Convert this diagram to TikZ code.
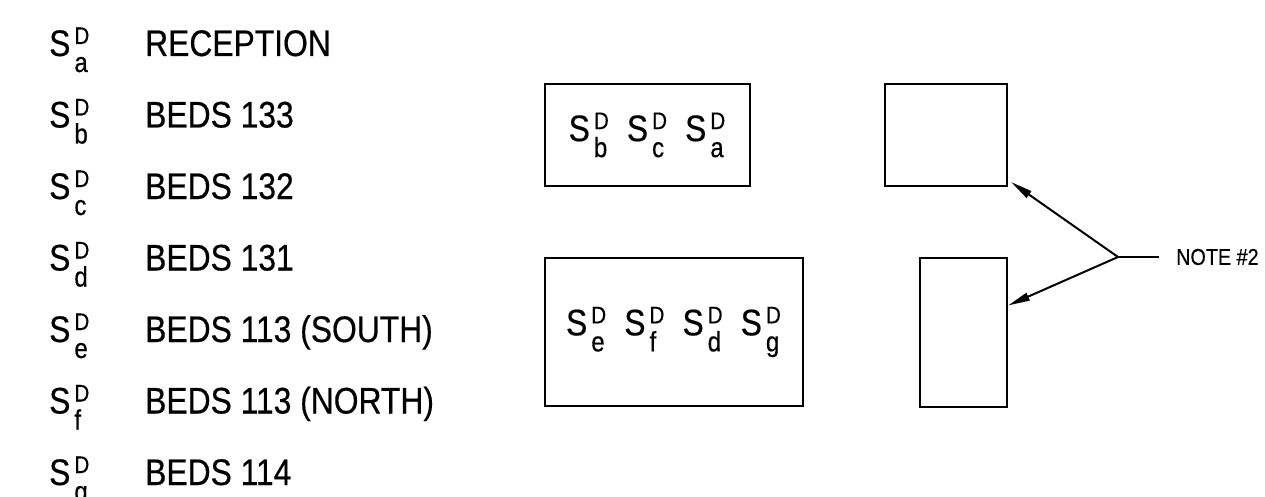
\documentclass[tikz,border=0pt]{standalone}
\usepackage{fontspec}
\setmainfont{Liberation Sans}[FakeStretch=0.86,FakeBold=0.4]
\usetikzlibrary{arrows.meta}

% S with superscript D and a subscript
\newcommand{\sd}[1]{S\hspace{4pt}\rlap{\raisebox{12pt}{\fontsize{24}{24}\selectfont D}}%
\makebox[16pt][l]{\raisebox{-16pt}{\fontsize{28}{28}\selectfont #1}}}

\tikzset{
  txt/.style={anchor=base west, inner sep=0pt, font=\fontsize{37}{40}\selectfont},
  room/.style={draw, line width=2pt, inner sep=0pt, font=\fontsize{37}{40}\selectfont},
  lead/.style={line width=2pt, -{Triangle[length=22pt,width=8pt]}}
}

\begin{document}
\begin{tikzpicture}[x=1pt,y=-1pt]
\useasboundingbox (0,0) rectangle (1265,497);

% legend
\node [txt] (sa) at (49,56) {\sd{a}};
\node [txt] (la) at (145,56) {RECEPTION};
\node [txt] (sb) at (49,127.5) {\sd{b}};
\node [txt] (lb) at (145,127.5) {BEDS 133};
\node [txt] (sc) at (49,199) {\sd{c}};
\node [txt] (lc) at (145,199) {BEDS 132};
\node [txt] (sdd) at (49,270.5) {\sd{d}};
\node [txt] (ld) at (145,270.5) {BEDS 131};
\node [txt] (se) at (49,342) {\sd{e}};
\node [txt] (le) at (145,342) {BEDS 113 (SOUTH)};
\node [txt] (sf) at (49,413.5) {\sd{f}};
\node [txt] (lf) at (145,413.5) {BEDS 113 (NORTH)};
\node [txt] (sg) at (49,485) {\sd{g}};
\node [txt] (lg) at (145,485) {BEDS 114};

% rooms
\node [room, minimum width=205pt, minimum height=102pt] (upper) at (647.5,135)
  {\sd{b}\hspace{17pt}\sd{c}\hspace{17pt}\sd{a}};
\node [room, minimum width=258pt, minimum height=148pt] (lower) at (674,332)
  {\sd{e}\hspace{17pt}\sd{f}\hspace{17pt}\sd{d}\hspace{17pt}\sd{g}};
\node [room, minimum width=122pt, minimum height=102pt] (north) at (946,135) {};
\node [room, minimum width=87pt, minimum height=149pt] (south) at (963.5,332.5) {};

% note
\node [anchor=west, inner sep=0pt, font=\fontsize{23}{26}\selectfont] (note) at (1176,257) {NOTE \#2};
\coordinate (junc) at (1118,257);
\draw [line width=2pt] (junc) -- ([xshift=-17pt]note.west);
\draw [lead] (junc) -- ([shift={(3pt,5pt)}]north.south east);
\draw [lead] (junc) -- ([yshift=27pt]south.east);
\end{tikzpicture}
\end{document}
